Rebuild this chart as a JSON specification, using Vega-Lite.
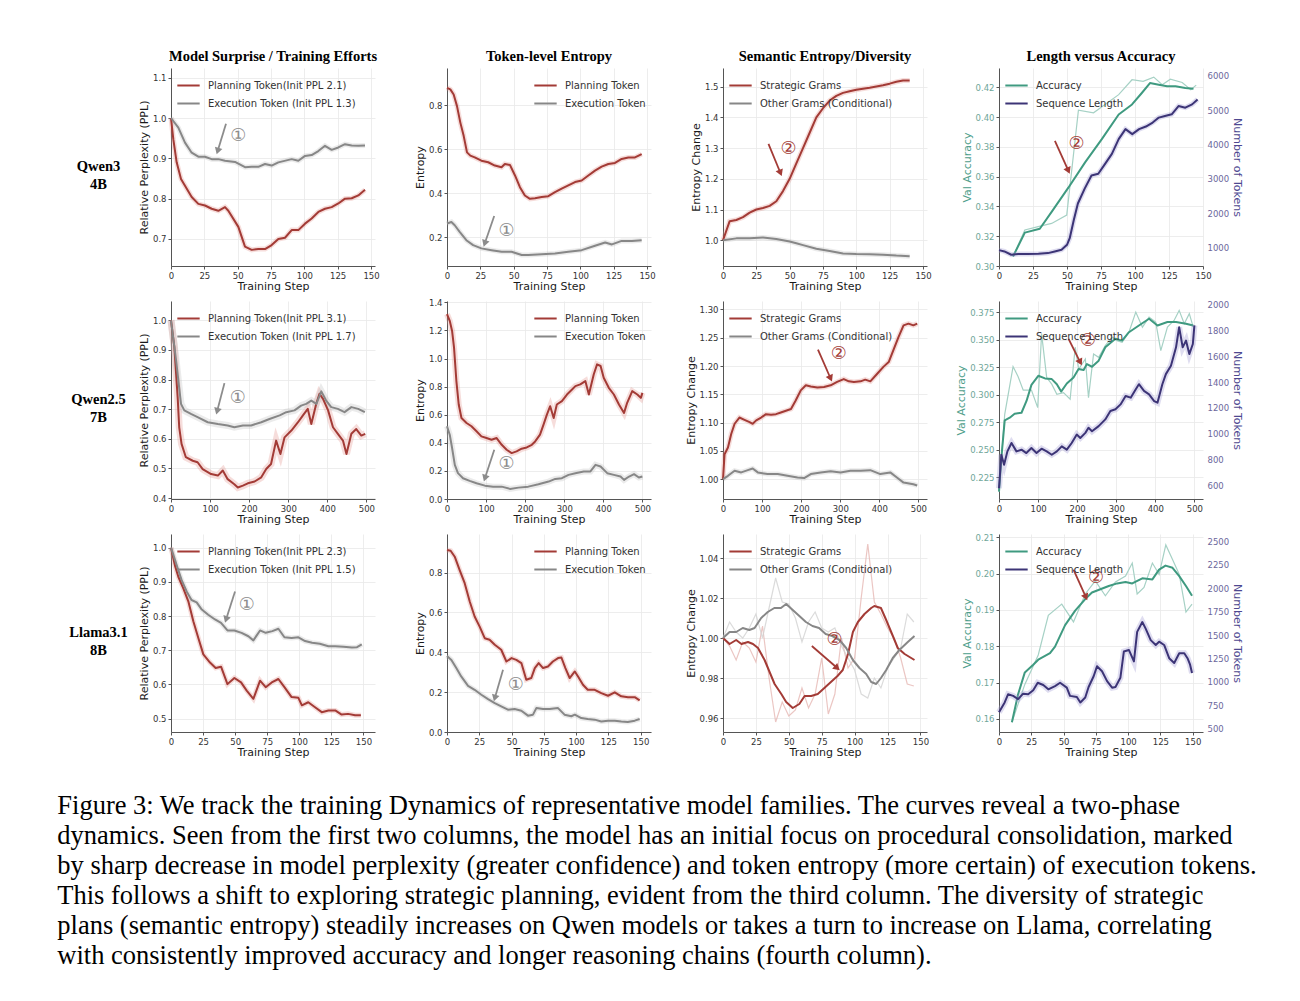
{
"$schema":"https://vega.github.io/schema/vega-lite/v6.json",
"padding":{"left":57,"top":48,"right":5,"bottom":5},
"title":{"text":["Figure 3: We track the training Dynamics of representative model families. The curves reveal a two-phase","dynamics. Seen from the first two columns, the model has an initial focus on procedural consolidation, marked","by sharp decrease in model perplexity (greater confidence) and token entropy (more certain) of execution tokens.","This follows a shift to exploring strategic planning, evident from the third column. The diversity of strategic","plans (semantic entropy) steadily increases on Qwen models or takes a turn to increase on Llama, correlating","with consistently improved accuracy and longer reasoning chains (fourth column)."],"orient":"bottom","anchor":"start","frame":"bounds","font":"Liberation Serif","fontSize":26.5,"fontWeight":"normal","lineHeight":30,"offset":35,"dx":-12,"color":"#000000"},
"datasets":{
"d11":[{"s":"p","x":0,"y":1.0},{"s":"p","x":1.75,"y":0.947},{"s":"p","x":4.25,"y":0.89},{"s":"p","x":7.5,"y":0.849},{"s":"p","x":10.5,"y":0.832},{"s":"p","x":15.5,"y":0.804},{"s":"p","x":20.5,"y":0.787},{"s":"p","x":25.5,"y":0.783},{"s":"p","x":30.5,"y":0.775},{"s":"p","x":35.5,"y":0.77},{"s":"p","x":40.5,"y":0.779},{"s":"p","x":43,"y":0.77},{"s":"p","x":50.5,"y":0.73},{"s":"p","x":55.5,"y":0.681},{"s":"p","x":60.5,"y":0.673},{"s":"p","x":65.5,"y":0.675},{"s":"p","x":70.5,"y":0.675},{"s":"p","x":75.5,"y":0.685},{"s":"p","x":80.5,"y":0.7},{"s":"p","x":85.5,"y":0.703},{"s":"p","x":90.5,"y":0.722},{"s":"p","x":95.5,"y":0.722},{"s":"p","x":100.5,"y":0.738},{"s":"p","x":105.5,"y":0.751},{"s":"p","x":110.5,"y":0.767},{"s":"p","x":115.5,"y":0.775},{"s":"p","x":120.5,"y":0.779},{"s":"p","x":125.5,"y":0.788},{"s":"p","x":130.5,"y":0.8},{"s":"p","x":135.5,"y":0.801},{"s":"p","x":140.5,"y":0.808},{"s":"p","x":145.5,"y":0.822},
{"s":"e","x":0,"y":1.0},{"s":"e","x":5.5,"y":0.976},{"s":"e","x":10.5,"y":0.939},{"s":"e","x":15.5,"y":0.914},{"s":"e","x":20.5,"y":0.904},{"s":"e","x":25.5,"y":0.904},{"s":"e","x":30.5,"y":0.898},{"s":"e","x":35.5,"y":0.898},{"s":"e","x":40.5,"y":0.894},{"s":"e","x":48,"y":0.891},{"s":"e","x":55.5,"y":0.878},{"s":"e","x":60.5,"y":0.879},{"s":"e","x":65.5,"y":0.879},{"s":"e","x":70.5,"y":0.886},{"s":"e","x":75.5,"y":0.882},{"s":"e","x":80.5,"y":0.89},{"s":"e","x":90.5,"y":0.898},{"s":"e","x":95.5,"y":0.894},{"s":"e","x":100.5,"y":0.906},{"s":"e","x":105.5,"y":0.908},{"s":"e","x":110.5,"y":0.918},{"s":"e","x":115.5,"y":0.931},{"s":"e","x":120.5,"y":0.921},{"s":"e","x":125.5,"y":0.927},{"s":"e","x":130.5,"y":0.935},{"s":"e","x":135.5,"y":0.932},{"s":"e","x":140.5,"y":0.931},{"s":"e","x":145.5,"y":0.932}],
"d12":[{"s":"p","x":0,"y":0.878},{"s":"p","x":2.5,"y":0.871},{"s":"p","x":5,"y":0.848},{"s":"p","x":7.5,"y":0.795},{"s":"p","x":10,"y":0.72},{"s":"p","x":12.5,"y":0.66},{"s":"p","x":15,"y":0.585},{"s":"p","x":17.5,"y":0.57},{"s":"p","x":20.8,"y":0.562},{"s":"p","x":25.8,"y":0.547},{"s":"p","x":30.9,"y":0.54},{"s":"p","x":35.9,"y":0.525},{"s":"p","x":40.9,"y":0.517},{"s":"p","x":43.4,"y":0.532},{"s":"p","x":47.2,"y":0.528},{"s":"p","x":51,"y":0.48},{"s":"p","x":54.7,"y":0.427},{"s":"p","x":58.4,"y":0.389},{"s":"p","x":62.2,"y":0.374},{"s":"p","x":66,"y":0.377},{"s":"p","x":71,"y":0.382},{"s":"p","x":76,"y":0.386},{"s":"p","x":81,"y":0.404},{"s":"p","x":86,"y":0.42},{"s":"p","x":91,"y":0.435},{"s":"p","x":96,"y":0.45},{"s":"p","x":101,"y":0.457},{"s":"p","x":106,"y":0.48},{"s":"p","x":111,"y":0.502},{"s":"p","x":116,"y":0.52},{"s":"p","x":121,"y":0.532},{"s":"p","x":126,"y":0.537},{"s":"p","x":131,"y":0.555},{"s":"p","x":136,"y":0.562},{"s":"p","x":141,"y":0.562},{"s":"p","x":146,"y":0.577},
{"s":"e","x":0,"y":0.262},{"s":"e","x":3.3,"y":0.269},{"s":"e","x":5.8,"y":0.254},{"s":"e","x":9.5,"y":0.224},{"s":"e","x":14.5,"y":0.186},{"s":"e","x":19.6,"y":0.164},{"s":"e","x":25.8,"y":0.149},{"s":"e","x":33.4,"y":0.141},{"s":"e","x":41,"y":0.134},{"s":"e","x":48.4,"y":0.134},{"s":"e","x":56,"y":0.119},{"s":"e","x":61,"y":0.119},{"s":"e","x":71,"y":0.122},{"s":"e","x":81,"y":0.126},{"s":"e","x":91,"y":0.134},{"s":"e","x":101,"y":0.141},{"s":"e","x":111,"y":0.161},{"s":"e","x":118.6,"y":0.176},{"s":"e","x":123.7,"y":0.167},{"s":"e","x":131,"y":0.183},{"s":"e","x":138.7,"y":0.182},{"s":"e","x":146,"y":0.186}],
"d13":[{"s":"p","x":0,"y":1.0},{"s":"p","x":5,"y":1.062},{"s":"p","x":10,"y":1.066},{"s":"p","x":15,"y":1.075},{"s":"p","x":20,"y":1.09},{"s":"p","x":25,"y":1.1},{"s":"p","x":30,"y":1.105},{"s":"p","x":35,"y":1.112},{"s":"p","x":40,"y":1.127},{"s":"p","x":45,"y":1.16},{"s":"p","x":50,"y":1.2},{"s":"p","x":55,"y":1.25},{"s":"p","x":60,"y":1.3},{"s":"p","x":65,"y":1.35},{"s":"p","x":70,"y":1.4},{"s":"p","x":75,"y":1.43},{"s":"p","x":80,"y":1.455},{"s":"p","x":85,"y":1.47},{"s":"p","x":90,"y":1.48},{"s":"p","x":95,"y":1.485},{"s":"p","x":100,"y":1.49},{"s":"p","x":110,"y":1.497},{"s":"p","x":120,"y":1.505},{"s":"p","x":125,"y":1.51},{"s":"p","x":130,"y":1.516},{"s":"p","x":135,"y":1.52},{"s":"p","x":140,"y":1.52},
{"s":"e","x":0,"y":1.0},{"s":"e","x":10,"y":1.006},{"s":"e","x":20,"y":1.006},{"s":"e","x":30,"y":1.009},{"s":"e","x":40,"y":1.004},{"s":"e","x":50,"y":0.996},{"s":"e","x":55,"y":0.99},{"s":"e","x":60,"y":0.984},{"s":"e","x":70,"y":0.972},{"s":"e","x":80,"y":0.965},{"s":"e","x":90,"y":0.957},{"s":"e","x":100,"y":0.955},{"s":"e","x":110,"y":0.954},{"s":"e","x":120,"y":0.953},{"s":"e","x":130,"y":0.95},{"s":"e","x":140,"y":0.948}],
"d14":[{"s":"a","x":10.3,"y":0.3064},{"s":"a","x":19,"y":0.3224},{"s":"a","x":30,"y":0.325},{"s":"a","x":38.7,"y":0.3364},{"s":"a","x":51,"y":0.3526},{"s":"a","x":63.3,"y":0.3696},{"s":"a","x":75.6,"y":0.3852},{"s":"a","x":88,"y":0.4018},{"s":"a","x":97.8,"y":0.4085},{"s":"a","x":105,"y":0.4162},{"s":"a","x":111,"y":0.4229},{"s":"a","x":117.5,"y":0.4218},{"s":"a","x":123.6,"y":0.4207},{"s":"a","x":129.8,"y":0.4207},{"s":"a","x":137,"y":0.4196},{"s":"a","x":143,"y":0.4191},
{"s":"ar","x":10.3,"y":0.3064},{"s":"ar","x":19,"y":0.3242},{"s":"ar","x":28.8,"y":0.3264},{"s":"ar","x":38.7,"y":0.3286},{"s":"ar","x":49.8,"y":0.3342},{"s":"ar","x":58.4,"y":0.4047},{"s":"ar","x":69.5,"y":0.4029},{"s":"ar","x":78,"y":0.4085},{"s":"ar","x":88,"y":0.4151},{"s":"ar","x":97.8,"y":0.4251},{"s":"ar","x":106,"y":0.424},{"s":"ar","x":113.8,"y":0.4269},{"s":"ar","x":120,"y":0.4218},{"s":"ar","x":126,"y":0.4255},{"s":"ar","x":134.7,"y":0.4233},{"s":"ar","x":141,"y":0.4184},{"s":"ar","x":145,"y":0.4215},
{"s":"l","x":0,"y":933},{"s":"l","x":4,"y":895},{"s":"l","x":9,"y":798},{"s":"l","x":14,"y":818},{"s":"l","x":21,"y":818},{"s":"l","x":29,"y":827},{"s":"l","x":36,"y":846},{"s":"l","x":41,"y":895},{"s":"l","x":46,"y":942},{"s":"l","x":50,"y":1086},{"s":"l","x":52,"y":1278},{"s":"l","x":55,"y":1806},{"s":"l","x":58,"y":2286},{"s":"l","x":63,"y":2718},{"s":"l","x":68,"y":3102},{"s":"l","x":73,"y":3150},{"s":"l","x":78,"y":3438},{"s":"l","x":83,"y":3726},{"s":"l","x":88,"y":4157},{"s":"l","x":93,"y":4445},{"s":"l","x":98,"y":4301},{"s":"l","x":103,"y":4445},{"s":"l","x":108,"y":4522},{"s":"l","x":113,"y":4637},{"s":"l","x":117.5,"y":4781},{"s":"l","x":122,"y":4829},{"s":"l","x":127,"y":4877},{"s":"l","x":132,"y":5117},{"s":"l","x":137,"y":5069},{"s":"l","x":142,"y":5165},{"s":"l","x":146,"y":5309}],
"d21":[{"s":"p","x":0,"y":1.0},{"s":"p","x":8.5,"y":0.91},{"s":"p","x":17,"y":0.741},{"s":"p","x":21,"y":0.639},{"s":"p","x":27,"y":0.583},{"s":"p","x":38,"y":0.538},{"s":"p","x":55.6,"y":0.526},{"s":"p","x":68,"y":0.521},{"s":"p","x":81,"y":0.498},{"s":"p","x":102.6,"y":0.481},{"s":"p","x":120,"y":0.476},{"s":"p","x":132.5,"y":0.493},{"s":"p","x":145,"y":0.464},{"s":"p","x":162,"y":0.447},{"s":"p","x":171,"y":0.436},{"s":"p","x":184,"y":0.442},{"s":"p","x":196.6,"y":0.45},{"s":"p","x":214,"y":0.456},{"s":"p","x":231,"y":0.47},{"s":"p","x":243.6,"y":0.498},{"s":"p","x":256,"y":0.515},{"s":"p","x":269,"y":0.594},{"s":"p","x":280,"y":0.549},{"s":"p","x":290.6,"y":0.605},{"s":"p","x":308,"y":0.628},{"s":"p","x":325,"y":0.656},{"s":"p","x":337.6,"y":0.679},{"s":"p","x":350,"y":0.701},{"s":"p","x":359,"y":0.65},{"s":"p","x":372,"y":0.72},{"s":"p","x":380,"y":0.752},{"s":"p","x":389,"y":0.735},{"s":"p","x":402,"y":0.696},{"s":"p","x":414.5,"y":0.639},{"s":"p","x":427,"y":0.617},{"s":"p","x":440,"y":0.594},{"s":"p","x":449,"y":0.549},{"s":"p","x":461.5,"y":0.617},{"s":"p","x":474,"y":0.633},{"s":"p","x":487,"y":0.611},{"s":"p","x":497,"y":0.617},
{"s":"e","x":0,"y":1.0},{"s":"e","x":13,"y":0.865},{"s":"e","x":25.6,"y":0.718},{"s":"e","x":34,"y":0.696},{"s":"e","x":51,"y":0.684},{"s":"e","x":68,"y":0.673},{"s":"e","x":94,"y":0.656},{"s":"e","x":120,"y":0.65},{"s":"e","x":145,"y":0.645},{"s":"e","x":162,"y":0.639},{"s":"e","x":184,"y":0.645},{"s":"e","x":205,"y":0.645},{"s":"e","x":231,"y":0.656},{"s":"e","x":252,"y":0.667},{"s":"e","x":278,"y":0.679},{"s":"e","x":295,"y":0.69},{"s":"e","x":316,"y":0.696},{"s":"e","x":333,"y":0.712},{"s":"e","x":346,"y":0.718},{"s":"e","x":359,"y":0.729},{"s":"e","x":372,"y":0.718},{"s":"e","x":384.6,"y":0.76},{"s":"e","x":397,"y":0.729},{"s":"e","x":410,"y":0.707},{"s":"e","x":427,"y":0.701},{"s":"e","x":444,"y":0.69},{"s":"e","x":461.5,"y":0.707},{"s":"e","x":479,"y":0.701},{"s":"e","x":496,"y":0.69}],
"d22":[{"s":"p","x":0,"y":1.317},{"s":"p","x":7,"y":1.269},{"s":"p","x":13,"y":1.197},{"s":"p","x":18,"y":1.078},{"s":"p","x":24,"y":0.84},{"s":"p","x":30,"y":0.673},{"s":"p","x":37,"y":0.577},{"s":"p","x":50,"y":0.541},{"s":"p","x":62.6,"y":0.518},{"s":"p","x":75.5,"y":0.482},{"s":"p","x":88,"y":0.446},{"s":"p","x":101,"y":0.434},{"s":"p","x":114,"y":0.422},{"s":"p","x":127,"y":0.434},{"s":"p","x":140,"y":0.386},{"s":"p","x":152.6,"y":0.351},{"s":"p","x":165.5,"y":0.327},{"s":"p","x":178,"y":0.339},{"s":"p","x":191,"y":0.358},{"s":"p","x":204,"y":0.367},{"s":"p","x":217,"y":0.386},{"s":"p","x":225.6,"y":0.41},{"s":"p","x":238,"y":0.458},{"s":"p","x":247,"y":0.53},{"s":"p","x":255.6,"y":0.601},{"s":"p","x":264,"y":0.661},{"s":"p","x":273,"y":0.577},{"s":"p","x":281,"y":0.673},{"s":"p","x":294,"y":0.697},{"s":"p","x":307,"y":0.744},{"s":"p","x":320,"y":0.78},{"s":"p","x":328.5,"y":0.804},{"s":"p","x":341,"y":0.816},{"s":"p","x":354,"y":0.84},{"s":"p","x":363,"y":0.744},{"s":"p","x":375.6,"y":0.888},{"s":"p","x":384,"y":0.959},{"s":"p","x":393,"y":0.947},{"s":"p","x":401,"y":0.863},{"s":"p","x":414,"y":0.792},{"s":"p","x":427,"y":0.744},{"s":"p","x":440,"y":0.673},{"s":"p","x":453,"y":0.613},{"s":"p","x":461,"y":0.685},{"s":"p","x":474,"y":0.768},{"s":"p","x":487,"y":0.744},{"s":"p","x":496,"y":0.72},{"s":"p","x":500,"y":0.756},
{"s":"e","x":0,"y":0.518},{"s":"e","x":7,"y":0.458},{"s":"e","x":13,"y":0.363},{"s":"e","x":20,"y":0.243},{"s":"e","x":28,"y":0.184},{"s":"e","x":41,"y":0.148},{"s":"e","x":58,"y":0.129},{"s":"e","x":75.5,"y":0.112},{"s":"e","x":97,"y":0.095},{"s":"e","x":118,"y":0.088},{"s":"e","x":140,"y":0.088},{"s":"e","x":161,"y":0.072},{"s":"e","x":183,"y":0.081},{"s":"e","x":208,"y":0.088},{"s":"e","x":234,"y":0.105},{"s":"e","x":260,"y":0.124},{"s":"e","x":277,"y":0.143},{"s":"e","x":294,"y":0.148},{"s":"e","x":311,"y":0.172},{"s":"e","x":328.5,"y":0.184},{"s":"e","x":350,"y":0.196},{"s":"e","x":367,"y":0.196},{"s":"e","x":380,"y":0.243},{"s":"e","x":393,"y":0.231},{"s":"e","x":410,"y":0.184},{"s":"e","x":427,"y":0.172},{"s":"e","x":444,"y":0.16},{"s":"e","x":453,"y":0.136},{"s":"e","x":466,"y":0.16},{"s":"e","x":478.6,"y":0.177},{"s":"e","x":491,"y":0.153},{"s":"e","x":500,"y":0.16}],
"d23":[{"s":"p","x":0,"y":1.0},{"s":"p","x":4,"y":1.044},{"s":"p","x":12.7,"y":1.056},{"s":"p","x":21,"y":1.08},{"s":"p","x":29.7,"y":1.098},{"s":"p","x":42,"y":1.109},{"s":"p","x":55,"y":1.105},{"s":"p","x":68,"y":1.101},{"s":"p","x":76,"y":1.098},{"s":"p","x":85,"y":1.104},{"s":"p","x":97.5,"y":1.109},{"s":"p","x":110,"y":1.115},{"s":"p","x":123,"y":1.114},{"s":"p","x":135.6,"y":1.115},{"s":"p","x":148,"y":1.118},{"s":"p","x":161,"y":1.121},{"s":"p","x":174,"y":1.124},{"s":"p","x":186,"y":1.139},{"s":"p","x":199,"y":1.157},{"s":"p","x":212,"y":1.166},{"s":"p","x":224.6,"y":1.164},{"s":"p","x":241.5,"y":1.162},{"s":"p","x":258.5,"y":1.163},{"s":"p","x":275.4,"y":1.166},{"s":"p","x":292,"y":1.172},{"s":"p","x":309,"y":1.177},{"s":"p","x":322,"y":1.173},{"s":"p","x":335,"y":1.172},{"s":"p","x":352,"y":1.173},{"s":"p","x":364,"y":1.176},{"s":"p","x":377,"y":1.173},{"s":"p","x":394,"y":1.186},{"s":"p","x":411,"y":1.199},{"s":"p","x":424,"y":1.207},{"s":"p","x":436,"y":1.228},{"s":"p","x":449,"y":1.251},{"s":"p","x":462,"y":1.272},{"s":"p","x":474.6,"y":1.275},{"s":"p","x":487,"y":1.272},{"s":"p","x":497,"y":1.275},
{"s":"e","x":0,"y":1.0},{"s":"e","x":12.7,"y":1.006},{"s":"e","x":29.7,"y":1.015},{"s":"e","x":46.6,"y":1.012},{"s":"e","x":63.5,"y":1.016},{"s":"e","x":76,"y":1.019},{"s":"e","x":89,"y":1.012},{"s":"e","x":114,"y":1.009},{"s":"e","x":140,"y":1.009},{"s":"e","x":165,"y":1.006},{"s":"e","x":190.7,"y":1.003},{"s":"e","x":207.6,"y":1.002},{"s":"e","x":224.6,"y":1.009},{"s":"e","x":250,"y":1.012},{"s":"e","x":275.4,"y":1.014},{"s":"e","x":301,"y":1.012},{"s":"e","x":326,"y":1.015},{"s":"e","x":352,"y":1.015},{"s":"e","x":377,"y":1.016},{"s":"e","x":402.5,"y":1.009},{"s":"e","x":428,"y":1.012},{"s":"e","x":445,"y":1.003},{"s":"e","x":462,"y":0.994},{"s":"e","x":487,"y":0.991},{"s":"e","x":497,"y":0.989}],
"d24":[{"s":"a","x":0,"y":0.2122},{"s":"a","x":6,"y":0.2427},{"s":"a","x":14.6,"y":0.2767},{"s":"a","x":27.5,"y":0.2792},{"s":"a","x":40,"y":0.2828},{"s":"a","x":57.6,"y":0.2837},{"s":"a","x":70.4,"y":0.2944},{"s":"a","x":83,"y":0.309},{"s":"a","x":100.5,"y":0.3172},{"s":"a","x":117.7,"y":0.3148},{"s":"a","x":135,"y":0.3142},{"s":"a","x":148,"y":0.3096},{"s":"a","x":159,"y":0.3029},{"s":"a","x":173.5,"y":0.3102},{"s":"a","x":190.7,"y":0.3157},{"s":"a","x":203.6,"y":0.3233},{"s":"a","x":216.5,"y":0.3224},{"s":"a","x":225,"y":0.3278},{"s":"a","x":238,"y":0.3254},{"s":"a","x":255,"y":0.3309},{"s":"a","x":272,"y":0.3431},{"s":"a","x":298,"y":0.3507},{"s":"a","x":315,"y":0.3491},{"s":"a","x":332.5,"y":0.3567},{"s":"a","x":358,"y":0.3628},{"s":"a","x":384,"y":0.3689},{"s":"a","x":405.5,"y":0.3628},{"s":"a","x":431,"y":0.3659},{"s":"a","x":453,"y":0.3659},{"s":"a","x":478.5,"y":0.3644},{"s":"a","x":497,"y":0.3628},
{"s":"ar","x":0,"y":0.2122},{"s":"ar","x":14.6,"y":0.2822},{"s":"ar","x":36,"y":0.3256},{"s":"ar","x":49,"y":0.3164},{"s":"ar","x":62,"y":0.3042},{"s":"ar","x":83,"y":0.3042},{"s":"ar","x":99,"y":0.2883},{"s":"ar","x":109,"y":0.3552},{"s":"ar","x":122,"y":0.3157},{"s":"ar","x":135,"y":0.3096},{"s":"ar","x":148,"y":0.3005},{"s":"ar","x":165,"y":0.302},{"s":"ar","x":182,"y":0.2959},{"s":"ar","x":195,"y":0.3431},{"s":"ar","x":204,"y":0.3233},{"s":"ar","x":221,"y":0.3324},{"s":"ar","x":229,"y":0.2974},{"s":"ar","x":242,"y":0.337},{"s":"ar","x":255,"y":0.3339},{"s":"ar","x":272,"y":0.3446},{"s":"ar","x":289.5,"y":0.3522},{"s":"ar","x":302,"y":0.3491},{"s":"ar","x":315,"y":0.3476},{"s":"ar","x":332.5,"y":0.3567},{"s":"ar","x":350,"y":0.375},{"s":"ar","x":367,"y":0.3613},{"s":"ar","x":384,"y":0.3704},{"s":"ar","x":401,"y":0.3659},{"s":"ar","x":414,"y":0.34},{"s":"ar","x":431,"y":0.3613},{"s":"ar","x":448,"y":0.3674},{"s":"ar","x":461,"y":0.3765},{"s":"ar","x":474,"y":0.3644},{"s":"ar","x":487,"y":0.3735},{"s":"ar","x":497,"y":0.3613},
{"s":"l","x":0,"y":579},{"s":"l","x":6,"y":838},{"s":"l","x":13,"y":761},{"s":"l","x":21.5,"y":864},{"s":"l","x":32,"y":929},{"s":"l","x":44.7,"y":864},{"s":"l","x":57.6,"y":877},{"s":"l","x":70,"y":851},{"s":"l","x":83,"y":890},{"s":"l","x":96,"y":851},{"s":"l","x":109,"y":885},{"s":"l","x":122,"y":864},{"s":"l","x":135,"y":838},{"s":"l","x":148,"y":864},{"s":"l","x":160.6,"y":903},{"s":"l","x":173.5,"y":877},{"s":"l","x":186,"y":929},{"s":"l","x":199,"y":994},{"s":"l","x":208,"y":968},{"s":"l","x":221,"y":1007},{"s":"l","x":229,"y":1046},{"s":"l","x":238,"y":1020},{"s":"l","x":255,"y":1059},{"s":"l","x":272,"y":1111},{"s":"l","x":285,"y":1176},{"s":"l","x":298,"y":1189},{"s":"l","x":311,"y":1227},{"s":"l","x":324,"y":1292},{"s":"l","x":337,"y":1279},{"s":"l","x":350,"y":1344},{"s":"l","x":358,"y":1383},{"s":"l","x":371,"y":1331},{"s":"l","x":384,"y":1305},{"s":"l","x":397,"y":1253},{"s":"l","x":405.5,"y":1240},{"s":"l","x":418,"y":1383},{"s":"l","x":427,"y":1461},{"s":"l","x":440,"y":1526},{"s":"l","x":453,"y":1668},{"s":"l","x":461,"y":1824},{"s":"l","x":470,"y":1668},{"s":"l","x":478.5,"y":1720},{"s":"l","x":487,"y":1616},{"s":"l","x":496,"y":1694},{"s":"l","x":500,"y":1837}],
"d31":[{"s":"p","x":0,"y":1.0},{"s":"p","x":3,"y":0.949},{"s":"p","x":5.7,"y":0.915},{"s":"p","x":9.6,"y":0.881},{"s":"p","x":13.5,"y":0.843},{"s":"p","x":17.4,"y":0.785},{"s":"p","x":21.3,"y":0.736},{"s":"p","x":25.2,"y":0.688},{"s":"p","x":30.4,"y":0.664},{"s":"p","x":34.8,"y":0.648},{"s":"p","x":39,"y":0.652},{"s":"p","x":44,"y":0.601},{"s":"p","x":49.4,"y":0.619},{"s":"p","x":54.6,"y":0.606},{"s":"p","x":59,"y":0.582},{"s":"p","x":64.2,"y":0.558},{"s":"p","x":69.4,"y":0.611},{"s":"p","x":73.8,"y":0.592},{"s":"p","x":78.5,"y":0.606},{"s":"p","x":83.7,"y":0.616},{"s":"p","x":88.4,"y":0.592},{"s":"p","x":94,"y":0.563},{"s":"p","x":99.3,"y":0.561},{"s":"p","x":102,"y":0.539},{"s":"p","x":107,"y":0.548},{"s":"p","x":112,"y":0.534},{"s":"p","x":117.5,"y":0.519},{"s":"p","x":122.7,"y":0.524},{"s":"p","x":128,"y":0.524},{"s":"p","x":133,"y":0.512},{"s":"p","x":138,"y":0.514},{"s":"p","x":143.5,"y":0.51},{"s":"p","x":148,"y":0.51},
{"s":"e","x":0,"y":1.0},{"s":"e","x":4.4,"y":0.949},{"s":"e","x":8.3,"y":0.905},{"s":"e","x":12.2,"y":0.872},{"s":"e","x":16,"y":0.847},{"s":"e","x":20,"y":0.84},{"s":"e","x":24,"y":0.819},{"s":"e","x":29,"y":0.804},{"s":"e","x":34.3,"y":0.79},{"s":"e","x":39,"y":0.78},{"s":"e","x":44,"y":0.758},{"s":"e","x":49.4,"y":0.758},{"s":"e","x":55,"y":0.751},{"s":"e","x":60.3,"y":0.741},{"s":"e","x":64.2,"y":0.729},{"s":"e","x":69.4,"y":0.758},{"s":"e","x":73.8,"y":0.751},{"s":"e","x":79,"y":0.756},{"s":"e","x":83.7,"y":0.763},{"s":"e","x":88.4,"y":0.738},{"s":"e","x":94,"y":0.736},{"s":"e","x":99.3,"y":0.738},{"s":"e","x":104.5,"y":0.727},{"s":"e","x":110,"y":0.722},{"s":"e","x":116,"y":0.719},{"s":"e","x":122.7,"y":0.712},{"s":"e","x":128,"y":0.712},{"s":"e","x":134.4,"y":0.71},{"s":"e","x":141,"y":0.708},{"s":"e","x":145,"y":0.709},{"s":"e","x":148.7,"y":0.717}],
"d32":[{"s":"p","x":0,"y":0.914},{"s":"p","x":2.8,"y":0.91},{"s":"p","x":6,"y":0.88},{"s":"p","x":9.8,"y":0.813},{"s":"p","x":13.7,"y":0.747},{"s":"p","x":17.6,"y":0.655},{"s":"p","x":21.4,"y":0.58},{"s":"p","x":25.3,"y":0.529},{"s":"p","x":29.2,"y":0.471},{"s":"p","x":33,"y":0.463},{"s":"p","x":37,"y":0.438},{"s":"p","x":42,"y":0.413},{"s":"p","x":46,"y":0.354},{"s":"p","x":50,"y":0.371},{"s":"p","x":53.7,"y":0.362},{"s":"p","x":57.6,"y":0.346},{"s":"p","x":61.4,"y":0.262},{"s":"p","x":65.3,"y":0.271},{"s":"p","x":68,"y":0.321},{"s":"p","x":71,"y":0.346},{"s":"p","x":74.4,"y":0.321},{"s":"p","x":78.2,"y":0.329},{"s":"p","x":82,"y":0.354},{"s":"p","x":86,"y":0.371},{"s":"p","x":88.6,"y":0.374},{"s":"p","x":91.7,"y":0.321},{"s":"p","x":95,"y":0.271},{"s":"p","x":99,"y":0.304},{"s":"p","x":101.5,"y":0.279},{"s":"p","x":105.3,"y":0.237},{"s":"p","x":109,"y":0.212},{"s":"p","x":114.4,"y":0.212},{"s":"p","x":119.5,"y":0.195},{"s":"p","x":124.7,"y":0.182},{"s":"p","x":129.9,"y":0.199},{"s":"p","x":135,"y":0.179},{"s":"p","x":140.2,"y":0.175},{"s":"p","x":145.4,"y":0.175},{"s":"p","x":149.2,"y":0.159},
{"s":"e","x":0,"y":0.382},{"s":"e","x":3.4,"y":0.362},{"s":"e","x":7.2,"y":0.321},{"s":"e","x":11,"y":0.279},{"s":"e","x":16.3,"y":0.232},{"s":"e","x":21.4,"y":0.212},{"s":"e","x":26.6,"y":0.187},{"s":"e","x":31.8,"y":0.165},{"s":"e","x":37,"y":0.145},{"s":"e","x":42,"y":0.129},{"s":"e","x":47.2,"y":0.112},{"s":"e","x":52.4,"y":0.115},{"s":"e","x":57.6,"y":0.107},{"s":"e","x":62.7,"y":0.082},{"s":"e","x":66.6,"y":0.087},{"s":"e","x":69.2,"y":0.12},{"s":"e","x":74.4,"y":0.115},{"s":"e","x":79.5,"y":0.115},{"s":"e","x":86,"y":0.12},{"s":"e","x":91,"y":0.087},{"s":"e","x":96.3,"y":0.079},{"s":"e","x":99,"y":0.087},{"s":"e","x":104,"y":0.07},{"s":"e","x":109,"y":0.065},{"s":"e","x":114.4,"y":0.062},{"s":"e","x":119.5,"y":0.053},{"s":"e","x":124.7,"y":0.057},{"s":"e","x":130,"y":0.057},{"s":"e","x":135,"y":0.053},{"s":"e","x":140,"y":0.05},{"s":"e","x":145.4,"y":0.057},{"s":"e","x":149.2,"y":0.065}],
"d33":[{"s":"p","x":0,"y":1.0},{"s":"p","x":5,"y":0.997},{"s":"p","x":10,"y":0.999},{"s":"p","x":14,"y":0.997},{"s":"p","x":19,"y":0.998},{"s":"p","x":22.8,"y":0.997},{"s":"p","x":26.6,"y":0.995},{"s":"p","x":31.6,"y":0.989},{"s":"p","x":35.4,"y":0.983},{"s":"p","x":39.2,"y":0.977},{"s":"p","x":44.3,"y":0.972},{"s":"p","x":48,"y":0.968},{"s":"p","x":53,"y":0.965},{"s":"p","x":58,"y":0.967},{"s":"p","x":62,"y":0.971},{"s":"p","x":67,"y":0.971},{"s":"p","x":72,"y":0.972},{"s":"p","x":77,"y":0.975},{"s":"p","x":82,"y":0.978},{"s":"p","x":87,"y":0.981},{"s":"p","x":91,"y":0.984},{"s":"p","x":95,"y":0.992},{"s":"p","x":98.7,"y":1.003},{"s":"p","x":102.5,"y":1.008},{"s":"p","x":107.5,"y":1.012},{"s":"p","x":112.6,"y":1.015},{"s":"p","x":115,"y":1.016},{"s":"p","x":120,"y":1.015},{"s":"p","x":124,"y":1.009},{"s":"p","x":127.8,"y":1.003},{"s":"p","x":132.8,"y":0.995},{"s":"p","x":138,"y":0.992},{"s":"p","x":143,"y":0.99},{"s":"p","x":145.5,"y":0.989},
{"s":"e","x":0,"y":1.0},{"s":"e","x":5,"y":1.003},{"s":"e","x":10,"y":1.003},{"s":"e","x":15,"y":1.005},{"s":"e","x":20,"y":1.004},{"s":"e","x":24,"y":1.005},{"s":"e","x":29,"y":1.01},{"s":"e","x":34,"y":1.013},{"s":"e","x":39,"y":1.015},{"s":"e","x":44,"y":1.015},{"s":"e","x":48,"y":1.017},{"s":"e","x":53,"y":1.014},{"s":"e","x":58,"y":1.011},{"s":"e","x":63,"y":1.008},{"s":"e","x":68,"y":1.006},{"s":"e","x":73,"y":1.005},{"s":"e","x":78,"y":1.002},{"s":"e","x":83,"y":1.001},{"s":"e","x":88.5,"y":0.999},{"s":"e","x":93.6,"y":0.995},{"s":"e","x":98.7,"y":0.989},{"s":"e","x":103.7,"y":0.985},{"s":"e","x":108.8,"y":0.982},{"s":"e","x":112.6,"y":0.978},{"s":"e","x":116.4,"y":0.977},{"s":"e","x":120,"y":0.98},{"s":"e","x":124,"y":0.984},{"s":"e","x":129,"y":0.99},{"s":"e","x":134,"y":0.994},{"s":"e","x":140.4,"y":0.998},{"s":"e","x":145.5,"y":1.001},
{"s":"pr","x":0,"y":1.0},{"s":"pr","x":5,"y":0.996},{"s":"pr","x":10,"y":0.989},{"s":"pr","x":15,"y":0.998},{"s":"pr","x":20,"y":0.995},{"s":"pr","x":25,"y":0.988},{"s":"pr","x":30,"y":1.006},{"s":"pr","x":35,"y":0.98},{"s":"pr","x":40,"y":0.958},{"s":"pr","x":45,"y":0.968},{"s":"pr","x":50,"y":0.961},{"s":"pr","x":55,"y":0.964},{"s":"pr","x":60,"y":0.975},{"s":"pr","x":65,"y":0.965},{"s":"pr","x":70,"y":0.972},{"s":"pr","x":75,"y":0.99},{"s":"pr","x":80,"y":0.962},{"s":"pr","x":85,"y":0.972},{"s":"pr","x":90,"y":1.0},{"s":"pr","x":95,"y":0.985},{"s":"pr","x":100,"y":0.99},{"s":"pr","x":105,"y":1.02},{"s":"pr","x":110,"y":1.047},{"s":"pr","x":115,"y":1.018},{"s":"pr","x":120,"y":1.012},{"s":"pr","x":125,"y":1.005},{"s":"pr","x":130,"y":1.0},{"s":"pr","x":135,"y":0.99},{"s":"pr","x":140,"y":0.977},{"s":"pr","x":145,"y":0.976},
{"s":"er","x":0,"y":1.0},{"s":"er","x":5,"y":1.008},{"s":"er","x":10,"y":1.003},{"s":"er","x":15,"y":1.0},{"s":"er","x":20,"y":1.005},{"s":"er","x":25,"y":1.012},{"s":"er","x":30,"y":1.0},{"s":"er","x":35,"y":1.015},{"s":"er","x":40,"y":1.03},{"s":"er","x":45,"y":1.018},{"s":"er","x":50,"y":1.017},{"s":"er","x":55,"y":1.01},{"s":"er","x":60,"y":0.998},{"s":"er","x":65,"y":1.008},{"s":"er","x":70,"y":1.013},{"s":"er","x":75,"y":1.005},{"s":"er","x":80,"y":1.003},{"s":"er","x":85,"y":1.005},{"s":"er","x":90,"y":0.996},{"s":"er","x":95,"y":0.99},{"s":"er","x":100,"y":0.984},{"s":"er","x":105,"y":0.972},{"s":"er","x":110,"y":0.97},{"s":"er","x":115,"y":0.98},{"s":"er","x":120,"y":0.975},{"s":"er","x":125,"y":0.985},{"s":"er","x":130,"y":0.99},{"s":"er","x":135,"y":0.995},{"s":"er","x":140,"y":1.012},{"s":"er","x":145,"y":1.008}],
"d34":[{"s":"a","x":10,"y":0.1591},{"s":"a","x":14.8,"y":0.1668},{"s":"a","x":20,"y":0.1728},{"s":"a","x":26.5,"y":0.1749},{"s":"a","x":30.4,"y":0.1763},{"s":"a","x":39.5,"y":0.1781},{"s":"a","x":43.4,"y":0.1799},{"s":"a","x":51.2,"y":0.1858},{"s":"a","x":59,"y":0.1898},{"s":"a","x":66.8,"y":0.193},{"s":"a","x":72,"y":0.1948},{"s":"a","x":78.5,"y":0.1957},{"s":"a","x":85,"y":0.1966},{"s":"a","x":91.5,"y":0.1973},{"s":"a","x":98,"y":0.1977},{"s":"a","x":103.2,"y":0.1973},{"s":"a","x":111,"y":0.1987},{"s":"a","x":118.8,"y":0.1984},{"s":"a","x":124,"y":0.2011},{"s":"a","x":129,"y":0.2022},{"s":"a","x":134.4,"y":0.2016},{"s":"a","x":139.6,"y":0.1993},{"s":"a","x":144.8,"y":0.1966},{"s":"a","x":149.5,"y":0.1939},
{"s":"ar","x":10,"y":0.1591},{"s":"ar","x":20,"y":0.1695},{"s":"ar","x":30.4,"y":0.1776},{"s":"ar","x":38.2,"y":0.1885},{"s":"ar","x":48.6,"y":0.1916},{"s":"ar","x":57.7,"y":0.1867},{"s":"ar","x":66.8,"y":0.1944},{"s":"ar","x":74.6,"y":0.198},{"s":"ar","x":82.4,"y":0.1939},{"s":"ar","x":90.2,"y":0.1977},{"s":"ar","x":98,"y":0.1993},{"s":"ar","x":103.2,"y":0.2029},{"s":"ar","x":107,"y":0.1944},{"s":"ar","x":112.3,"y":0.1962},{"s":"ar","x":118.8,"y":0.2029},{"s":"ar","x":124,"y":0.1998},{"s":"ar","x":129.2,"y":0.2079},{"s":"ar","x":134.4,"y":0.2039},{"s":"ar","x":139.6,"y":0.1998},{"s":"ar","x":144.8,"y":0.1894},{"s":"ar","x":149.5,"y":0.1916},
{"s":"l","x":0,"y":675},{"s":"l","x":4.4,"y":781},{"s":"l","x":7,"y":868},{"s":"l","x":11,"y":851},{"s":"l","x":14.8,"y":816},{"s":"l","x":18.7,"y":875},{"s":"l","x":22.6,"y":868},{"s":"l","x":26.5,"y":911},{"s":"l","x":30,"y":991},{"s":"l","x":34.3,"y":967},{"s":"l","x":38.2,"y":921},{"s":"l","x":43.4,"y":956},{"s":"l","x":47.3,"y":991},{"s":"l","x":52.5,"y":939},{"s":"l","x":55,"y":851},{"s":"l","x":60.3,"y":840},{"s":"l","x":63,"y":781},{"s":"l","x":66.8,"y":833},{"s":"l","x":69.4,"y":946},{"s":"l","x":73.3,"y":1061},{"s":"l","x":75.9,"y":1167},{"s":"l","x":79.8,"y":1114},{"s":"l","x":83.7,"y":1009},{"s":"l","x":87.6,"y":939},{"s":"l","x":90.2,"y":946},{"s":"l","x":94,"y":1044},{"s":"l","x":96.7,"y":1325},{"s":"l","x":100.6,"y":1342},{"s":"l","x":104.5,"y":1219},{"s":"l","x":107,"y":1535},{"s":"l","x":111,"y":1640},{"s":"l","x":113.6,"y":1570},{"s":"l","x":117.5,"y":1447},{"s":"l","x":121.4,"y":1395},{"s":"l","x":124,"y":1430},{"s":"l","x":127.9,"y":1395},{"s":"l","x":131.8,"y":1254},{"s":"l","x":135.7,"y":1202},{"s":"l","x":139.6,"y":1307},{"s":"l","x":143.5,"y":1307},{"s":"l","x":146,"y":1254},{"s":"l","x":148,"y":1184},{"s":"l","x":149.5,"y":1096}]
},
"concat":[
 {"width":1,"height":198,"data":{"values":[{"t":"Qwen3\n4B"}]},"mark":{"type":"text","font":"Liberation Serif","fontWeight":"bold","fontSize":14.5,"lineBreak":"\n","lineHeight":18,"color":"#000000"},"encoding":{"text":{"field":"t","type":"nominal"}}},
 {"width":204,"height":198,"title":"Model Surprise / Training Efforts","data":{"name":"d11"},
  "encoding":{"x":{"field":"x","type":"quantitative","scale":{"domain":[0,153],"nice":false,"zero":false},"axis":{"values":[0,25,50,75,100,125,150],"title":"Training Step"}},"y":{"field":"y","type":"quantitative","scale":{"domain":[0.633,1.124],"nice":false,"zero":false},"axis":{"values":[0.7,0.8,0.9,1.0,1.1],"format":".1f","title":"Relative Perplexity (PPL)"}}},
  "layer":[
   {"transform":[{"filter":"datum.s=='p'"}],"mark":{"type":"line","strokeWidth":5,"opacity":0.3,"color":"#e08f88"}},
   {"transform":[{"filter":"datum.s=='e'"}],"mark":{"type":"line","strokeWidth":5,"opacity":0.3,"color":"#bdbdbd"}},
   {"mark":{"type":"line","strokeWidth":2,"strokeJoin":"round"},"encoding":{"color":{"field":"s","type":"nominal","scale":{"domain":["p","e"],"range":["#a33b36","#878787"]},"legend":{"title":null,"orient":"top-left","labelLimit":300,"labelExpr":"datum.value=='p'?'Planning Token(Init PPL 2.1)':'Execution Token (Init PPL 1.3)'"}}}},
   {"data":{"values":[{"x":41.25,"y":0.986,"x2":35,"y2":0.918}]},"mark":{"type":"rule","color":"#8c8c8c","strokeWidth":1.8},"encoding":{"x2":{"field":"x2"},"y2":{"field":"y2"}}},
   {"data":{"values":[{"x":35,"y":0.918}]},"mark":{"type":"point","shape":"triangle-up","filled":true,"opacity":1,"color":"#8c8c8c","size":60,"angle":197}},
   {"data":{"values":[{"x":50.5,"y":0.955}]},"mark":{"type":"text","text":"①","color":"#8c8c8c","fontSize":18}}
  ]},
 {"width":204,"height":198,"title":"Token-level Entropy","data":{"name":"d12"},
  "encoding":{"x":{"field":"x","type":"quantitative","scale":{"domain":[0,153],"nice":false,"zero":false},"axis":{"values":[0,25,50,75,100,125,150],"title":"Training Step"}},"y":{"field":"y","type":"quantitative","scale":{"domain":[0.069,0.968],"nice":false,"zero":false},"axis":{"values":[0.2,0.4,0.6,0.8],"format":".1f","title":"Entropy"}}},
  "layer":[
   {"transform":[{"filter":"datum.s=='p'"}],"mark":{"type":"line","strokeWidth":5,"opacity":0.3,"color":"#e08f88"}},
   {"transform":[{"filter":"datum.s=='e'"}],"mark":{"type":"line","strokeWidth":5,"opacity":0.3,"color":"#bdbdbd"}},
   {"mark":{"type":"line","strokeWidth":2,"strokeJoin":"round"},"encoding":{"color":{"field":"s","type":"nominal","scale":{"domain":["p","e"],"range":["#a33b36","#878787"]},"legend":{"title":null,"orient":"top-right","labelLimit":300,"labelExpr":"datum.value=='p'?'Planning Token':'Execution Token'"}}}},
   {"data":{"values":[{"x":35.4,"y":0.296,"x2":28.3,"y2":0.171}]},"mark":{"type":"rule","color":"#8c8c8c","strokeWidth":1.8},"encoding":{"x2":{"field":"x2"},"y2":{"field":"y2"}}},
   {"data":{"values":[{"x":28.3,"y":0.171}]},"mark":{"type":"point","shape":"triangle-up","filled":true,"opacity":1,"color":"#8c8c8c","size":60,"angle":199}},
   {"data":{"values":[{"x":44.6,"y":0.227}]},"mark":{"type":"text","text":"①","color":"#8c8c8c","fontSize":18}}
  ]},
 {"width":204,"height":198,"title":"Semantic Entropy/Diversity","data":{"name":"d13"},
  "encoding":{"x":{"field":"x","type":"quantitative","scale":{"domain":[0,153],"nice":false,"zero":false},"axis":{"values":[0,25,50,75,100,125,150],"title":"Training Step"}},"y":{"field":"y","type":"quantitative","scale":{"domain":[0.916,1.561],"nice":false,"zero":false},"axis":{"values":[1.0,1.1,1.2,1.3,1.4,1.5],"format":".1f","title":"Entropy Change"}}},
  "layer":[
   {"transform":[{"filter":"datum.s=='p'"}],"mark":{"type":"line","strokeWidth":5,"opacity":0.3,"color":"#e08f88"}},
   {"transform":[{"filter":"datum.s=='e'"}],"mark":{"type":"line","strokeWidth":5,"opacity":0.3,"color":"#bdbdbd"}},
   {"mark":{"type":"line","strokeWidth":2,"strokeJoin":"round"},"encoding":{"color":{"field":"s","type":"nominal","scale":{"domain":["p","e"],"range":["#a33b36","#878787"]},"legend":{"title":null,"orient":"top-left","labelLimit":300,"labelExpr":"datum.value=='p'?'Strategic Grams':'Other Grams (Conditional)'"}}}},
   {"data":{"values":[{"x":34.1,"y":1.314,"x2":43.1,"y2":1.219}]},"mark":{"type":"rule","color":"#a33b36","strokeWidth":1.8},"encoding":{"x2":{"field":"x2"},"y2":{"field":"y2"}}},
   {"data":{"values":[{"x":43.1,"y":1.219}]},"mark":{"type":"point","shape":"triangle-up","filled":true,"opacity":1,"color":"#a33b36","size":60,"angle":158}},
   {"data":{"values":[{"x":49.1,"y":1.297}]},"mark":{"type":"text","text":"②","color":"#a33b36","fontSize":18}}
  ]},
 {"width":204,"height":198,"title":"Length versus Accuracy","data":{"name":"d14"},
  "encoding":{"x":{"field":"x","type":"quantitative","scale":{"domain":[0,150],"nice":false,"zero":false},"axis":{"values":[0,25,50,75,100,125,150],"title":"Training Step"}}},
  "layer":[
   {"encoding":{"y":{"field":"y","type":"quantitative","scale":{"domain":[0.3,0.433],"nice":false,"zero":false},"axis":{"values":[0.3,0.32,0.34,0.36,0.38,0.4,0.42],"format":".2f","title":"Val Accuracy","titleColor":"#4f9e8b","labelColor":"#6fa699"}}},
    "layer":[
     {"transform":[{"filter":"datum.s=='ar'"}],"mark":{"type":"line","strokeWidth":1.2,"color":"#a6d1c5"}},
     {"transform":[{"filter":"datum.s=='a'"}],"mark":{"type":"line","strokeWidth":2,"strokeJoin":"round"},"encoding":{"color":{"field":"s","type":"nominal","scale":{"domain":["a","l"],"range":["#3f9a80","#3c3476"]},"legend":{"title":null,"orient":"top-left","labelLimit":300,"labelExpr":"datum.value=='a'?'Accuracy':'Sequence Length'"}}}},
     {"data":{"values":[{"x":41.1,"y":0.384,"x2":51,"y2":0.364}]},"mark":{"type":"rule","color":"#a33b36","strokeWidth":1.8},"encoding":{"x2":{"field":"x2"},"y2":{"field":"y2"}}},
     {"data":{"values":[{"x":51,"y":0.364}]},"mark":{"type":"point","shape":"triangle-up","filled":true,"opacity":1,"color":"#a33b36","size":60,"angle":156}},
     {"data":{"values":[{"x":57,"y":0.3818}]},"mark":{"type":"text","text":"②","color":"#a33b36","fontSize":18}}
    ]},
   {"encoding":{"y":{"field":"y","type":"quantitative","scale":{"domain":[472,6221],"nice":false,"zero":false},"axis":{"orient":"right","values":[1000,2000,3000,4000,5000,6000],"format":"d","title":"Number of Tokens","titleColor":"#4e4890","labelColor":"#6c679c","grid":false,"domain":false,"ticks":false,"labelPadding":4}}},
    "layer":[
     {"transform":[{"filter":"datum.s=='l'"}],"mark":{"type":"line","strokeWidth":5,"opacity":0.35,"color":"#a49dd3"}},
     {"transform":[{"filter":"datum.s=='l'"}],"mark":{"type":"line","strokeWidth":2,"strokeJoin":"round"},"encoding":{"color":{"field":"s","type":"nominal","scale":{"domain":["a","l"],"range":["#3f9a80","#3c3476"]},"legend":{"title":null,"orient":"top-left","labelLimit":300,"labelExpr":"datum.value=='a'?'Accuracy':'Sequence Length'"}}}}
    ]}
  ],
  "resolve":{"scale":{"y":"independent"}}},
 {"width":1,"height":198,"data":{"values":[{"t":"Qwen2.5\n7B"}]},"mark":{"type":"text","font":"Liberation Serif","fontWeight":"bold","fontSize":14.5,"lineBreak":"\n","lineHeight":18,"color":"#000000"},"encoding":{"text":{"field":"t","type":"nominal"}}},
 {"width":204,"height":198,"data":{"name":"d21"},
  "encoding":{"x":{"field":"x","type":"quantitative","scale":{"domain":[0,522],"nice":false,"zero":false},"axis":{"values":[0,100,200,300,400,500],"title":"Training Step"}},"y":{"field":"y","type":"quantitative","scale":{"domain":[0.397,1.065],"nice":false,"zero":false},"axis":{"values":[0.4,0.5,0.6,0.7,0.8,0.9,1.0],"format":".1f","title":"Relative Perplexity (PPL)"}}},
  "layer":[
   {"transform":[{"filter":"datum.s=='p'"}],"mark":{"type":"line","strokeWidth":7,"opacity":0.3,"color":"#e08f88"}},
   {"transform":[{"filter":"datum.s=='e'"}],"mark":{"type":"line","strokeWidth":7,"opacity":0.3,"color":"#bdbdbd"}},
   {"mark":{"type":"line","strokeWidth":2,"strokeJoin":"round"},"encoding":{"color":{"field":"s","type":"nominal","scale":{"domain":["p","e"],"range":["#a33b36","#878787"]},"legend":{"title":null,"orient":"top-left","labelLimit":300,"labelExpr":"datum.value=='p'?'Planning Token(Init PPL 3.1)':'Execution Token (Init PPL 1.7)'"}}}},
   {"data":{"values":[{"x":136.8,"y":0.788,"x2":118,"y2":0.693}]},"mark":{"type":"rule","color":"#8c8c8c","strokeWidth":1.8},"encoding":{"x2":{"field":"x2"},"y2":{"field":"y2"}}},
   {"data":{"values":[{"x":118,"y":0.693}]},"mark":{"type":"point","shape":"triangle-up","filled":true,"opacity":1,"color":"#8c8c8c","size":60,"angle":195}},
   {"data":{"values":[{"x":171,"y":0.738}]},"mark":{"type":"text","text":"①","color":"#8c8c8c","fontSize":18}}
  ]},
 {"width":204,"height":198,"data":{"name":"d22"},
  "encoding":{"x":{"field":"x","type":"quantitative","scale":{"domain":[0,522],"nice":false,"zero":false},"axis":{"values":[0,100,200,300,400,500],"title":"Training Step"}},"y":{"field":"y","type":"quantitative","scale":{"domain":[0,1.41],"nice":false,"zero":false},"axis":{"values":[0,0.2,0.4,0.6,0.8,1.0,1.2,1.4],"format":".1f","title":"Entropy"}}},
  "layer":[
   {"transform":[{"filter":"datum.s=='p'"}],"mark":{"type":"line","strokeWidth":6,"opacity":0.3,"color":"#e08f88"}},
   {"transform":[{"filter":"datum.s=='e'"}],"mark":{"type":"line","strokeWidth":6,"opacity":0.3,"color":"#bdbdbd"}},
   {"mark":{"type":"line","strokeWidth":2,"strokeJoin":"round"},"encoding":{"color":{"field":"s","type":"nominal","scale":{"domain":["p","e"],"range":["#a33b36","#878787"]},"legend":{"title":null,"orient":"top-right","labelLimit":300,"labelExpr":"datum.value=='p'?'Planning Token':'Execution Token'"}}}},
   {"data":{"values":[{"x":121,"y":0.351,"x2":97,"y2":0.148}]},"mark":{"type":"rule","color":"#8c8c8c","strokeWidth":1.8},"encoding":{"x2":{"field":"x2"},"y2":{"field":"y2"}}},
   {"data":{"values":[{"x":97,"y":0.148}]},"mark":{"type":"point","shape":"triangle-up","filled":true,"opacity":1,"color":"#8c8c8c","size":60,"angle":198}},
   {"data":{"values":[{"x":152.6,"y":0.248}]},"mark":{"type":"text","text":"①","color":"#8c8c8c","fontSize":18}}
  ]},
 {"width":204,"height":198,"data":{"name":"d23"},
  "encoding":{"x":{"field":"x","type":"quantitative","scale":{"domain":[0,522],"nice":false,"zero":false},"axis":{"values":[0,100,200,300,400,500],"title":"Training Step"}},"y":{"field":"y","type":"quantitative","scale":{"domain":[0.965,1.315],"nice":false,"zero":false},"axis":{"values":[1.0,1.05,1.1,1.15,1.2,1.25,1.3],"format":".2f","title":"Entropy Change"}}},
  "layer":[
   {"transform":[{"filter":"datum.s=='p'"}],"mark":{"type":"line","strokeWidth":5,"opacity":0.3,"color":"#e08f88"}},
   {"transform":[{"filter":"datum.s=='e'"}],"mark":{"type":"line","strokeWidth":5,"opacity":0.3,"color":"#bdbdbd"}},
   {"mark":{"type":"line","strokeWidth":2,"strokeJoin":"round"},"encoding":{"color":{"field":"s","type":"nominal","scale":{"domain":["p","e"],"range":["#a33b36","#878787"]},"legend":{"title":null,"orient":"top-left","labelLimit":300,"labelExpr":"datum.value=='p'?'Strategic Grams':'Other Grams (Conditional)'"}}}},
   {"data":{"values":[{"x":243,"y":1.229,"x2":275.4,"y2":1.178}]},"mark":{"type":"rule","color":"#a33b36","strokeWidth":1.8},"encoding":{"x2":{"field":"x2"},"y2":{"field":"y2"}}},
   {"data":{"values":[{"x":275.4,"y":1.178}]},"mark":{"type":"point","shape":"triangle-up","filled":true,"opacity":1,"color":"#a33b36","size":60,"angle":156}},
   {"data":{"values":[{"x":296.6,"y":1.221}]},"mark":{"type":"text","text":"②","color":"#a33b36","fontSize":18}}
  ]},
 {"width":204,"height":198,"data":{"name":"d24"},
  "encoding":{"x":{"field":"x","type":"quantitative","scale":{"domain":[0,522],"nice":false,"zero":false},"axis":{"values":[0,100,200,300,400,500],"title":"Training Step"}}},
  "layer":[
   {"encoding":{"y":{"field":"y","type":"quantitative","scale":{"domain":[0.2055,0.385],"nice":false,"zero":false},"axis":{"values":[0.225,0.25,0.275,0.3,0.325,0.35,0.375],"format":".3f","title":"Val Accuracy","titleColor":"#4f9e8b","labelColor":"#6fa699"}}},
    "layer":[
     {"transform":[{"filter":"datum.s=='ar'"}],"mark":{"type":"line","strokeWidth":1.2,"color":"#a6d1c5"}},
     {"transform":[{"filter":"datum.s=='a'"}],"mark":{"type":"line","strokeWidth":2,"strokeJoin":"round"},"encoding":{"color":{"field":"s","type":"nominal","scale":{"domain":["a","l"],"range":["#3f9a80","#3c3476"]},"legend":{"title":null,"orient":"top-left","labelLimit":300,"labelExpr":"datum.value=='a'?'Accuracy':'Sequence Length'"}}}},
     {"data":{"values":[{"x":178,"y":0.3507,"x2":208,"y2":0.3294}]},"mark":{"type":"rule","color":"#a33b36","strokeWidth":1.8},"encoding":{"x2":{"field":"x2"},"y2":{"field":"y2"}}},
     {"data":{"values":[{"x":208,"y":0.3294}]},"mark":{"type":"point","shape":"triangle-up","filled":true,"opacity":1,"color":"#a33b36","size":60,"angle":153}},
     {"data":{"values":[{"x":227.6,"y":0.3491}]},"mark":{"type":"text","text":"②","color":"#a33b36","fontSize":18}}
    ]},
   {"encoding":{"y":{"field":"y","type":"quantitative","scale":{"domain":[496,2026],"nice":false,"zero":false},"axis":{"orient":"right","values":[600,800,1000,1200,1400,1600,1800,2000],"format":"d","title":"Number of Tokens","titleColor":"#4e4890","labelColor":"#6c679c","grid":false,"domain":false,"ticks":false,"labelPadding":4}}},
    "layer":[
     {"transform":[{"filter":"datum.s=='l'"}],"mark":{"type":"line","strokeWidth":6,"opacity":0.35,"color":"#a49dd3"}},
     {"transform":[{"filter":"datum.s=='l'"}],"mark":{"type":"line","strokeWidth":2,"strokeJoin":"round"},"encoding":{"color":{"field":"s","type":"nominal","scale":{"domain":["a","l"],"range":["#3f9a80","#3c3476"]},"legend":{"title":null,"orient":"top-left","labelLimit":300,"labelExpr":"datum.value=='a'?'Accuracy':'Sequence Length'"}}}}
    ]}
  ],
  "resolve":{"scale":{"y":"independent"}}},
 {"width":1,"height":198,"data":{"values":[{"t":"Llama3.1\n8B"}]},"mark":{"type":"text","font":"Liberation Serif","fontWeight":"bold","fontSize":14.5,"lineBreak":"\n","lineHeight":18,"color":"#000000"},"encoding":{"text":{"field":"t","type":"nominal"}}},
 {"width":204,"height":198,"data":{"name":"d31"},
  "encoding":{"x":{"field":"x","type":"quantitative","scale":{"domain":[0,159],"nice":false,"zero":false},"axis":{"values":[0,25,50,75,100,125,150],"title":"Training Step"}},"y":{"field":"y","type":"quantitative","scale":{"domain":[0.461,1.04],"nice":false,"zero":false},"axis":{"values":[0.5,0.6,0.7,0.8,0.9,1.0],"format":".1f","title":"Relative Perplexity (PPL)"}}},
  "layer":[
   {"transform":[{"filter":"datum.s=='p'"}],"mark":{"type":"line","strokeWidth":5,"opacity":0.3,"color":"#e08f88"}},
   {"transform":[{"filter":"datum.s=='e'"}],"mark":{"type":"line","strokeWidth":5,"opacity":0.3,"color":"#bdbdbd"}},
   {"mark":{"type":"line","strokeWidth":2,"strokeJoin":"round"},"encoding":{"color":{"field":"s","type":"nominal","scale":{"domain":["p","e"],"range":["#a33b36","#878787"]},"legend":{"title":null,"orient":"top-left","labelLimit":300,"labelExpr":"datum.value=='p'?'Planning Token(Init PPL 2.3)':'Execution Token (Init PPL 1.5)'"}}}},
   {"data":{"values":[{"x":49.9,"y":0.872,"x2":42.9,"y2":0.79}]},"mark":{"type":"rule","color":"#8c8c8c","strokeWidth":1.8},"encoding":{"x2":{"field":"x2"},"y2":{"field":"y2"}}},
   {"data":{"values":[{"x":42.9,"y":0.79}]},"mark":{"type":"point","shape":"triangle-up","filled":true,"opacity":1,"color":"#8c8c8c","size":60,"angle":198}},
   {"data":{"values":[{"x":59,"y":0.833}]},"mark":{"type":"text","text":"①","color":"#8c8c8c","fontSize":18}}
  ]},
 {"width":204,"height":198,"data":{"name":"d32"},
  "encoding":{"x":{"field":"x","type":"quantitative","scale":{"domain":[0,158],"nice":false,"zero":false},"axis":{"values":[0,25,50,75,100,125,150],"title":"Training Step"}},"y":{"field":"y","type":"quantitative","scale":{"domain":[0,0.994],"nice":false,"zero":false},"axis":{"values":[0,0.2,0.4,0.6,0.8],"format":".1f","title":"Entropy"}}},
  "layer":[
   {"transform":[{"filter":"datum.s=='p'"}],"mark":{"type":"line","strokeWidth":5,"opacity":0.3,"color":"#e08f88"}},
   {"transform":[{"filter":"datum.s=='e'"}],"mark":{"type":"line","strokeWidth":5,"opacity":0.3,"color":"#bdbdbd"}},
   {"mark":{"type":"line","strokeWidth":2,"strokeJoin":"round"},"encoding":{"color":{"field":"s","type":"nominal","scale":{"domain":["p","e"],"range":["#a33b36","#878787"]},"legend":{"title":null,"orient":"top-right","labelLimit":300,"labelExpr":"datum.value=='p'?'Planning Token':'Execution Token'"}}}},
   {"data":{"values":[{"x":43.4,"y":0.312,"x2":37,"y2":0.17}]},"mark":{"type":"rule","color":"#8c8c8c","strokeWidth":1.8},"encoding":{"x2":{"field":"x2"},"y2":{"field":"y2"}}},
   {"data":{"values":[{"x":37,"y":0.17}]},"mark":{"type":"point","shape":"triangle-up","filled":true,"opacity":1,"color":"#8c8c8c","size":60,"angle":196}},
   {"data":{"values":[{"x":53.2,"y":0.234}]},"mark":{"type":"text","text":"①","color":"#8c8c8c","fontSize":18}}
  ]},
 {"width":204,"height":198,"data":{"name":"d33"},
  "encoding":{"x":{"field":"x","type":"quantitative","scale":{"domain":[0,155],"nice":false,"zero":false},"axis":{"values":[0,25,50,75,100,125,150],"title":"Training Step"}},"y":{"field":"y","type":"quantitative","scale":{"domain":[0.953,1.052],"nice":false,"zero":false},"axis":{"values":[0.96,0.98,1.0,1.02,1.04],"format":".2f","title":"Entropy Change"}}},
  "layer":[
   {"transform":[{"filter":"datum.s=='pr'"}],"mark":{"type":"line","strokeWidth":1.2,"opacity":0.8,"color":"#e6b8b4"}},
   {"transform":[{"filter":"datum.s=='er'"}],"mark":{"type":"line","strokeWidth":1.2,"opacity":0.8,"color":"#d2d2d2"}},
   {"transform":[{"filter":"datum.s=='p'||datum.s=='e'"}],"mark":{"type":"line","strokeWidth":2,"strokeJoin":"round"},"encoding":{"color":{"field":"s","type":"nominal","scale":{"domain":["p","e"],"range":["#a33b36","#878787"]},"legend":{"title":null,"orient":"top-left","labelLimit":300,"labelExpr":"datum.value=='p'?'Strategic Grams':'Other Grams (Conditional)'"}}}},
   {"data":{"values":[{"x":67.5,"y":0.996,"x2":86.8,"y2":0.985}]},"mark":{"type":"rule","color":"#a33b36","strokeWidth":1.8},"encoding":{"x2":{"field":"x2"},"y2":{"field":"y2"}}},
   {"data":{"values":[{"x":86.8,"y":0.985}]},"mark":{"type":"point","shape":"triangle-up","filled":true,"opacity":1,"color":"#a33b36","size":60,"angle":131}},
   {"data":{"values":[{"x":84.7,"y":0.9988}]},"mark":{"type":"text","text":"②","color":"#a33b36","fontSize":18}}
  ]},
 {"width":204,"height":198,"data":{"name":"d34"},
  "encoding":{"x":{"field":"x","type":"quantitative","scale":{"domain":[0,158],"nice":false,"zero":false},"axis":{"values":[0,25,50,75,100,125,150],"title":"Training Step"}}},
  "layer":[
   {"encoding":{"y":{"field":"y","type":"quantitative","scale":{"domain":[0.1564,0.2109],"nice":false,"zero":false},"axis":{"values":[0.16,0.17,0.18,0.19,0.2,0.21],"format":".2f","title":"Val Accuracy","titleColor":"#4f9e8b","labelColor":"#6fa699"}}},
    "layer":[
     {"transform":[{"filter":"datum.s=='ar'"}],"mark":{"type":"line","strokeWidth":1.2,"color":"#a6d1c5"}},
     {"transform":[{"filter":"datum.s=='a'"}],"mark":{"type":"line","strokeWidth":2,"strokeJoin":"round"},"encoding":{"color":{"field":"s","type":"nominal","scale":{"domain":["a","l"],"range":["#3f9a80","#3c3476"]},"legend":{"title":null,"orient":"top-left","labelLimit":300,"labelExpr":"datum.value=='a'?'Accuracy':'Sequence Length'"}}}},
     {"data":{"values":[{"x":57.7,"y":0.2011,"x2":67.3,"y2":0.1935}]},"mark":{"type":"rule","color":"#a33b36","strokeWidth":1.8},"encoding":{"x2":{"field":"x2"},"y2":{"field":"y2"}}},
     {"data":{"values":[{"x":67.3,"y":0.1935}]},"mark":{"type":"point","shape":"triangle-up","filled":true,"opacity":1,"color":"#a33b36","size":60,"angle":157}},
     {"data":{"values":[{"x":75.1,"y":0.1989}]},"mark":{"type":"text","text":"②","color":"#a33b36","fontSize":18}}
    ]},
   {"encoding":{"y":{"field":"y","type":"quantitative","scale":{"domain":[465,2581],"nice":false,"zero":false},"axis":{"orient":"right","values":[500,750,1000,1250,1500,1750,2000,2250,2500],"format":"d","title":"Number of Tokens","titleColor":"#4e4890","labelColor":"#6c679c","grid":false,"domain":false,"ticks":false,"labelPadding":4}}},
    "layer":[
     {"transform":[{"filter":"datum.s=='l'"}],"mark":{"type":"line","strokeWidth":6,"opacity":0.35,"color":"#a49dd3"}},
     {"transform":[{"filter":"datum.s=='l'"}],"mark":{"type":"line","strokeWidth":2,"strokeJoin":"round"},"encoding":{"color":{"field":"s","type":"nominal","scale":{"domain":["a","l"],"range":["#3f9a80","#3c3476"]},"legend":{"title":null,"orient":"top-left","labelLimit":300,"labelExpr":"datum.value=='a'?'Accuracy':'Sequence Length'"}}}}
    ]}
  ],
  "resolve":{"scale":{"y":"independent"}}}
],
"columns":5,
"spacing":{"row":35,"column":72},
"bounds":"flush",
"align":"each",
"resolve":{"scale":{"color":"independent"},"legend":{"color":"independent"}},
"config":{
 "view":{"stroke":null},
 "font":"DejaVu Sans",
 "axis":{"labelFont":"DejaVu Sans","labelFontSize":8.5,"labelColor":"#333333","titleFont":"DejaVu Sans","titleFontSize":11,"titleFontWeight":"normal","titleColor":"#1a1a1a","gridColor":"#e8e8e8","gridWidth":0.8,"domainColor":"#555555","tickColor":"#555555","tickSize":3,"labelPadding":2,"titlePadding":3,"labelFlush":false,"labelOverlap":false},
 "axisX":{"titlePadding":1},
 "legend":{"labelFont":"DejaVu Sans","labelFontSize":10,"labelColor":"#333333","symbolType":"stroke","symbolStrokeWidth":2,"symbolSize":500,"rowPadding":-5.5,"padding":0,"offset":5,"labelOffset":7},
 "title":{"font":"Liberation Serif","fontSize":14.5,"fontWeight":"bold","color":"#000000","offset":4}
}
}
